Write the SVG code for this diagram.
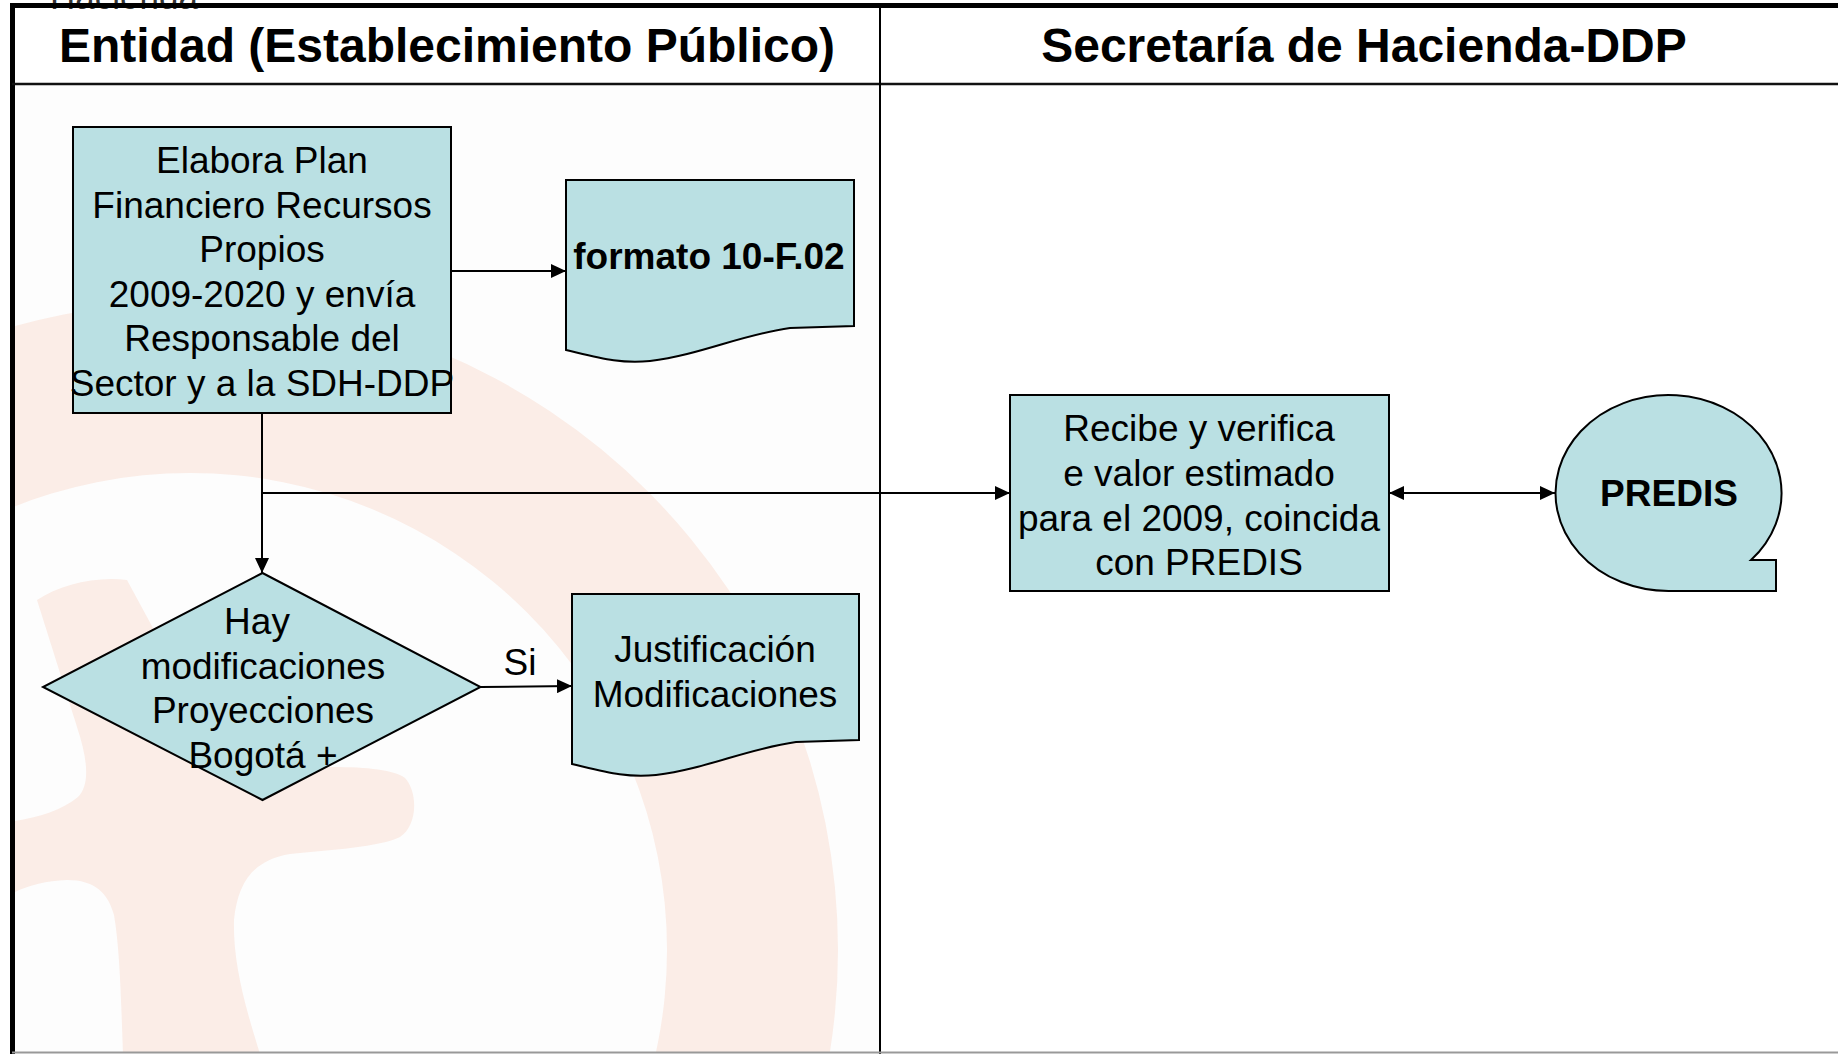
<svg xmlns="http://www.w3.org/2000/svg" width="1838" height="1054" viewBox="0 0 1838 1054">
<defs>
<style>
.box{fill:#BAE0E3;stroke:#000;stroke-width:2}
.t{font-family:"Liberation Sans",Arial,sans-serif;font-size:37px;text-anchor:middle;fill:#000}
.b{font-weight:bold}
.hdr{font-family:"Liberation Sans",Arial,sans-serif;font-size:48px;font-weight:bold;text-anchor:middle;fill:#000}
.c{stroke:#000;stroke-width:2;fill:none}
.wm{fill:#FBEDE7}
</style>
<marker id="ah" markerUnits="userSpaceOnUse" markerWidth="16" markerHeight="14" refX="15" refY="7" orient="auto-start-reverse"><path d="M0,0 L15,7 L0,14 z" fill="#000"/></marker>
<clipPath id="lane"><rect x="14" y="86" width="865" height="966"/></clipPath>
</defs>
<rect x="0" y="0" width="1838" height="1054" fill="#FFFFFF"/>
<rect x="12" y="84" width="868" height="970" fill="#FDFDFD"/>
<g id="watermark" clip-path="url(#lane)">
<path class="wm" fill-rule="evenodd" d="M-458 950 a648 648 0 1 0 1296 0 a648 648 0 1 0 -1296 0 Z M-287 950 a477 477 0 1 0 954 0 a477 477 0 1 0 -954 0 Z"/>
<path class="wm" d="M37 600 C60 585 95 576 127 580 C160 640 200 720 240 765 L333 767 C367 767 395 770 405 778 C418 792 418 825 400 837 C380 847 330 850 290 854 C255 860 238 880 234 920 C233 960 243 1000 260 1054 L123 1054 C121 1000 120 950 114 915 C108 893 95 880 67 880 C40 881 20 888 0 900 L0 823 C30 820 60 812 78 797 C90 785 88 760 77 727 Z"/>
</g>
<text x="124" y="9" font-family="Liberation Sans, Arial, sans-serif" font-size="35" text-anchor="middle" fill="#333">Hacienda</text>
<g id="frame">
<line x1="10" y1="5.5" x2="1838" y2="5.5" stroke="#000" stroke-width="5"/>
<line x1="12.5" y1="3" x2="12.5" y2="1054" stroke="#000" stroke-width="5"/>
<line x1="12" y1="84" x2="1838" y2="84" stroke="#111" stroke-width="2.5"/>
<line x1="880" y1="5" x2="880" y2="1054" stroke="#000" stroke-width="2"/>
<line x1="12" y1="1052.5" x2="1838" y2="1052.5" stroke="#999" stroke-width="2"/>
<text class="hdr" x="447" y="62">Entidad (Establecimiento Público)</text>
<text class="hdr" x="1364" y="62">Secretaría de Hacienda-DDP</text>
</g>
<g id="connectors">
<path class="c" d="M451 271 H566" marker-end="url(#ah)"/>
<path class="c" d="M262 413 V573" marker-end="url(#ah)"/>
<path class="c" d="M262 493 H1010" marker-end="url(#ah)"/>
<path class="c" d="M481 687 L572 686" marker-end="url(#ah)"/>
<path class="c" d="M1389 493 H1555" marker-start="url(#ah)" marker-end="url(#ah)"/>
<text class="t" x="520" y="675">Si</text>
</g>
<g id="elabora">
<rect class="box" x="73" y="127" width="378" height="286"/>
<text class="t" x="262" y="173">Elabora Plan</text>
<text class="t" x="262" y="217.5">Financiero Recursos</text>
<text class="t" x="262" y="262">Propios</text>
<text class="t" x="262" y="306.5">2009-2020 y envía</text>
<text class="t" x="262" y="351">Responsable del</text>
<text class="t" x="262" y="395.5">Sector y a la SDH-DDP</text>
</g>
<g id="formato">
<path class="box" d="M566 180 H854 V326 L790 328 C740 335 700 355 650 361 C620 364 600 358 566 350 Z"/>
<text class="t b" x="709" y="269">formato 10-F.02</text>
</g>
<g id="decision">
<path class="box" d="M262.5 573 L480.5 687 L262.5 800 L43 687 Z"/>
<text class="t" x="257" y="634">Hay</text>
<text class="t" x="263" y="679">modificaciones</text>
<text class="t" x="263" y="723">Proyecciones</text>
<text class="t" x="263" y="768">Bogotá +</text>
</g>
<g id="justificacion">
<path class="box" d="M572 594 H859 V740 L796 742 C746 749 706 769 656 775 C626 778 606 772 572 764 Z"/>
<text class="t" x="715" y="662">Justificación</text>
<text class="t" x="715" y="707">Modificaciones</text>
</g>
<g id="recibe">
<rect class="box" x="1010" y="395" width="379" height="196"/>
<text class="t" x="1199" y="441">Recibe y verifica</text>
<text class="t" x="1199" y="486">e valor estimado</text>
<text class="t" x="1199" y="530.5">para el 2009, coincida</text>
<text class="t" x="1199" y="575">con PREDIS</text>
</g>
<g id="predis">
<path class="box" d="M1668.5 591 A113 98 0 1 1 1751 560 L1776 560 L1776 591 Z"/>
<text class="t b" x="1669" y="506">PREDIS</text>
</g>
</svg>
